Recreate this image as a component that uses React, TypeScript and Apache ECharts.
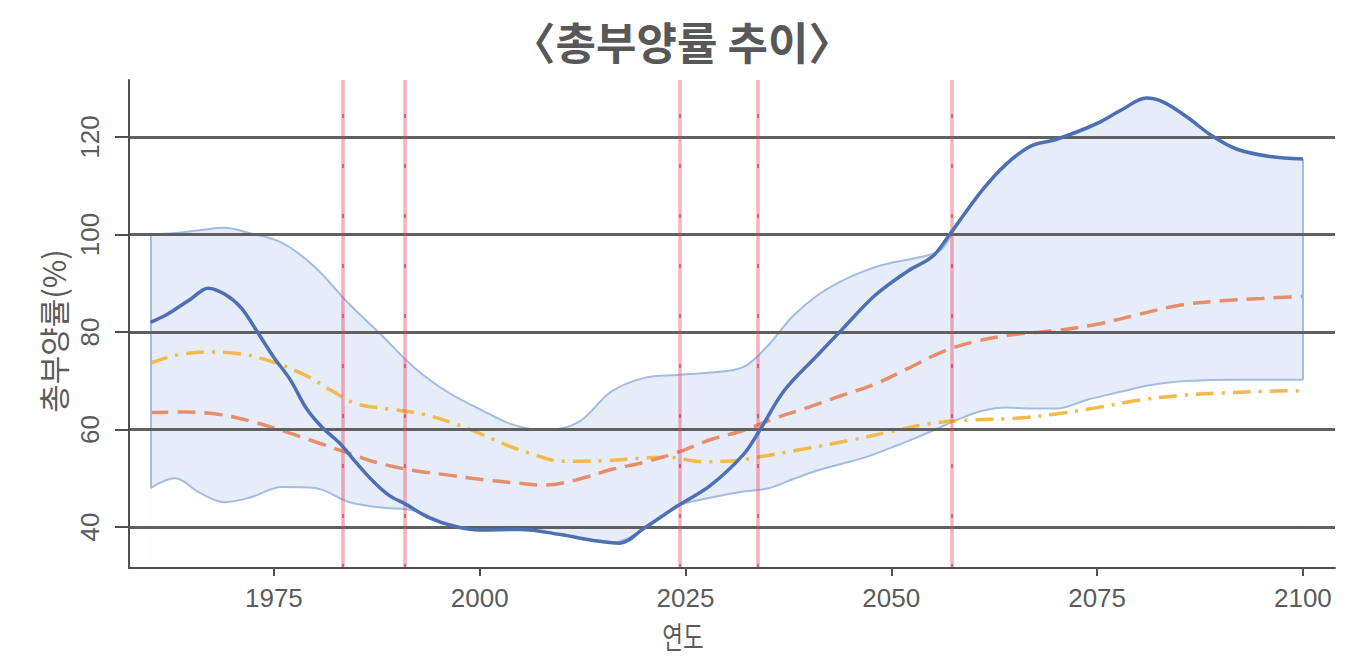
import React, { useEffect, useRef } from "react";
import * as echarts from "echarts";

// Titles
const TITLE = "〈총부양률 추이〉";
const X_TITLE = "연도";
const Y_TITLE = "총부양률(%)";

// Axis ticks and reference years
const xTicks = [1975, 2000, 2025, 2050, 2075, 2100];
const yTicks = [40, 60, 80, 100, 120];
const markerYears = [1983.4, 1990.9, 2024.3, 2033.8, 2057.4];

// Shaded range (upper / lower bounds)
const bandYears = [1960, 1963, 1966, 1969, 1972, 1976, 1980, 1984, 1988, 1992, 1996, 2000, 2004, 2008, 2012, 2016, 2020, 2024, 2028, 2032, 2035, 2038, 2041, 2044, 2047, 2050, 2053, 2056, 2058, 2061, 2064, 2067, 2070, 2074, 2078, 2081, 2084, 2088, 2092, 2096, 2100];
const bandUpper = [100.0, 100.3, 100.9, 101.4, 100.3, 98.3, 93.3, 86.0, 79.5, 72.8, 67.8, 64.2, 61.0, 59.9, 61.5, 67.8, 70.6, 71.2, 71.7, 72.8, 77.2, 83.2, 87.5, 90.5, 92.7, 94.2, 95.2, 96.8, 102.0, 109.0, 114.5, 118.2, 119.4, 121.8, 125.5, 128.0, 126.5, 121.3, 117.5, 116.0, 115.5];
const bandLower = [48.0, 50.0, 47.0, 45.1, 46.0, 48.2, 48.0, 45.2, 44.0, 43.4, 40.8, 39.4, 39.5, 38.9, 37.8, 36.8, 39.6, 44.3, 46.0, 47.3, 47.9, 49.8, 51.6, 53.0, 54.4, 56.3, 58.3, 60.5, 62.0, 63.8, 64.5, 64.3, 64.3, 66.2, 67.8, 69.0, 69.7, 70.1, 70.2, 70.2, 70.2];

// Solid dark-blue line
const solidYears = [1960, 1962, 1965, 1967, 1969, 1971, 1973, 1975, 1977, 1979, 1981, 1983, 1985, 1987, 1989, 1991, 1994, 1997, 2000, 2005, 2010, 2014, 2017, 2020, 2024, 2028, 2032, 2034, 2037, 2041, 2044, 2048, 2052, 2055, 2057, 2061, 2064, 2067, 2070, 2075, 2078, 2081, 2083, 2086, 2089, 2092, 2096, 2100];
const solidValues = [82.0, 83.6, 86.9, 89.0, 87.8, 85.0, 80.0, 74.8, 70.2, 64.2, 60.2, 57.2, 53.2, 49.5, 46.5, 44.7, 41.8, 40.1, 39.4, 39.5, 38.4, 37.2, 36.7, 39.8, 44.3, 48.5, 54.8, 59.8, 68.0, 75.2, 80.5, 87.5, 92.5, 95.5, 99.8, 109.0, 114.5, 118.2, 119.5, 122.8, 125.6, 128.0, 127.2, 124.0, 120.2, 117.5, 116.0, 115.5];

// Orange dashed line
const dashYears = [1960, 1964, 1968, 1972, 1976, 1980, 1984, 1988, 1992, 1996, 2000, 2004, 2008, 2012, 2016, 2020, 2024, 2028, 2032, 2036, 2040, 2044, 2048, 2052, 2056, 2060, 2065, 2070, 2075, 2080, 2085, 2090, 2095, 2100];
const dashValues = [63.5, 63.6, 63.2, 61.8, 59.8, 57.5, 55.2, 53.0, 51.6, 50.7, 49.8, 49.1, 48.6, 49.8, 51.8, 53.3, 55.3, 57.9, 59.8, 62.4, 64.6, 67.0, 69.3, 72.5, 75.8, 78.0, 79.5, 80.3, 81.6, 83.6, 85.5, 86.4, 86.9, 87.3];

// Yellow dot-dash line
const dotDashYears = [1960, 1963, 1967, 1971, 1975, 1979, 1982, 1985, 1989, 1993, 1997, 2000, 2003, 2006, 2010, 2015, 2020, 2023, 2027, 2031, 2034, 2039, 2045, 2050, 2055, 2060, 2065, 2070, 2075, 2080, 2085, 2090, 2095, 2100];
const dotDashValues = [73.6, 75.2, 75.9, 75.5, 73.8, 71.0, 68.0, 65.3, 64.2, 63.2, 61.2, 59.2, 57.0, 55.2, 53.5, 53.6, 54.2, 54.3, 53.4, 53.6, 54.4, 55.9, 57.8, 59.6, 61.3, 62.0, 62.3, 63.2, 64.5, 66.0, 67.0, 67.5, 67.8, 68.0];

const X_MIN = 1957.4;
const X_MAX = 2103.9;
const Y_MIN = 31.6;
const Y_MAX = 131.7;

const TICK_FONT = "'Liberation Sans', Arial, sans-serif";
const KR_FONT = "'Noto Sans CJK KR', 'Noto Sans', sans-serif";

const AXIS_COLOR = "#4f4f4f";
const TEXT_COLOR = "#5b5b5b";
const BAND_LINE = "#a3bce2";
const BAND_FILL = "#e7edf8";

const pairs = (xs: number[], ys: number[]) => xs.map((x, i) => [x, ys[i]]);

export default function App() {
  const ref = useRef<HTMLDivElement>(null);

  useEffect(() => {
    document.body.style.margin = "0";
    if (!ref.current) return;
    const chart = echarts.init(ref.current, null, { renderer: "svg" });

    const last = bandYears.length - 1;

    chart.setOption({
      animation: false,
      backgroundColor: "#ffffff",
      grid: { left: 129, right: 33, top: 80, bottom: 89 },
      xAxis: {
        type: "value",
        z: 10,
        min: X_MIN,
        max: X_MAX,
        splitLine: { show: false },
        axisLine: { show: true, lineStyle: { color: AXIS_COLOR, width: 2 } },
        axisTick: { show: true, customValues: xTicks, length: 8, lineStyle: { color: AXIS_COLOR, width: 2 } },
        axisLabel: {
          customValues: xTicks,
          formatter: (v: number) => String(v),
          margin: 17,
          fontSize: 26,
          fontFamily: TICK_FONT,
          color: TEXT_COLOR,
        },
      },
      yAxis: {
        type: "value",
        z: 10,
        min: Y_MIN,
        max: Y_MAX,
        splitLine: { show: false },
        axisLine: { show: true, lineStyle: { color: AXIS_COLOR, width: 2 } },
        axisTick: { show: true, customValues: yTicks, length: 14, lineStyle: { color: AXIS_COLOR, width: 2 } },
        axisLabel: {
          customValues: yTicks,
          formatter: (v: number) => String(v),
          rotate: 90,
          margin: 26,
          fontSize: 26,
          fontFamily: TICK_FONT,
          color: TEXT_COLOR,
        },
      },
      graphic: [
        {
          type: "text",
          x: 682,
          y: 41,
          style: {
            text: TITLE,
            fontSize: 44,
            fontWeight: "bold",
            fontFamily: KR_FONT,
            fill: "#585858",
            align: "center",
            verticalAlign: "middle",
          },
        },
        {
          type: "text",
          x: 683,
          y: 635,
          scaleX: 0.75,
          style: {
            text: X_TITLE,
            fontSize: 30,
            fontFamily: KR_FONT,
            fill: TEXT_COLOR,
            align: "center",
            verticalAlign: "middle",
          },
        },
        {
          type: "text",
          x: 52,
          y: 331,
          rotation: Math.PI / 2,
          style: {
            text: Y_TITLE,
            fontSize: 31,
            fontFamily: KR_FONT,
            fill: TEXT_COLOR,
            align: "center",
            verticalAlign: "middle",
          },
        },
      ],
      series: [
        {
          // upper bound, filled down to the axis floor
          name: "upper",
          type: "line",
          z: 1,
          silent: true,
          smooth: 0.35,
          symbol: "none",
          data: pairs(bandYears, bandUpper),
          lineStyle: { color: BAND_LINE, width: 2 },
          areaStyle: { origin: "start", color: BAND_FILL, opacity: 1 },
        },
        {
          // lower bound, white fill clears the area beneath the range
          name: "lower",
          type: "line",
          z: 1,
          silent: true,
          smooth: 0.35,
          symbol: "none",
          data: pairs(bandYears, bandLower),
          lineStyle: { color: BAND_LINE, width: 2 },
          areaStyle: { origin: "start", color: "#ffffff", opacity: 1 },
          markLine: {
            silent: true,
            symbol: "none",
            label: { show: false },
            lineStyle: { color: BAND_LINE, width: 2, type: "solid" },
            data: [
              [{ coord: [bandYears[0], bandLower[0]] }, { coord: [bandYears[0], bandUpper[0]] }],
              [{ coord: [bandYears[last], bandLower[last]] }, { coord: [bandYears[last], bandUpper[last]] }],
            ],
          },
        },
        {
          name: "grid",
          type: "line",
          z: 2,
          silent: true,
          data: [],
          markLine: {
            silent: true,
            symbol: "none",
            label: { show: false },
            lineStyle: { color: "#606060", width: 3, type: "solid" },
            data: yTicks.map((v) => ({ yAxis: v })),
          },
        },
        {
          name: "markers",
          type: "line",
          z: 3,
          silent: true,
          data: [],
          markLine: {
            silent: true,
            symbol: "none",
            label: { show: false },
            lineStyle: { color: "rgba(238,70,95,0.42)", width: 3.5, type: "solid" },
            data: markerYears.map((v) => ({ xAxis: v })),
          },
        },
        {
          name: "markerDots",
          type: "line",
          z: 3,
          silent: true,
          data: [],
          markLine: {
            silent: true,
            symbol: "none",
            label: { show: false },
            lineStyle: { color: "rgba(200,20,50,0.5)", width: 2, type: [4, 46] },
            data: markerYears.map((v) => ({ xAxis: v })),
          },
        },
        {
          name: "dotdash",
          type: "line",
          z: 4,
          silent: true,
          smooth: 0.35,
          symbol: "none",
          data: pairs(dotDashYears, dotDashValues),
          lineStyle: { color: "#f2b94c", width: 3.5, type: [18, 8, 3, 8] },
        },
        {
          name: "dashed",
          type: "line",
          z: 4,
          silent: true,
          smooth: 0.35,
          symbol: "none",
          data: pairs(dashYears, dashValues),
          lineStyle: { color: "#e88d6c", width: 3.5, type: [18, 9] },
        },
        {
          name: "solid",
          type: "line",
          z: 5,
          silent: true,
          smooth: 0.35,
          symbol: "none",
          data: pairs(solidYears, solidValues),
          lineStyle: { color: "#4d6fb4", width: 3.5 },
        },
      ],
    });

    return () => chart.dispose();
  }, []);

  return <div ref={ref} style={{ width: 1368, height: 657 }} />;
}
